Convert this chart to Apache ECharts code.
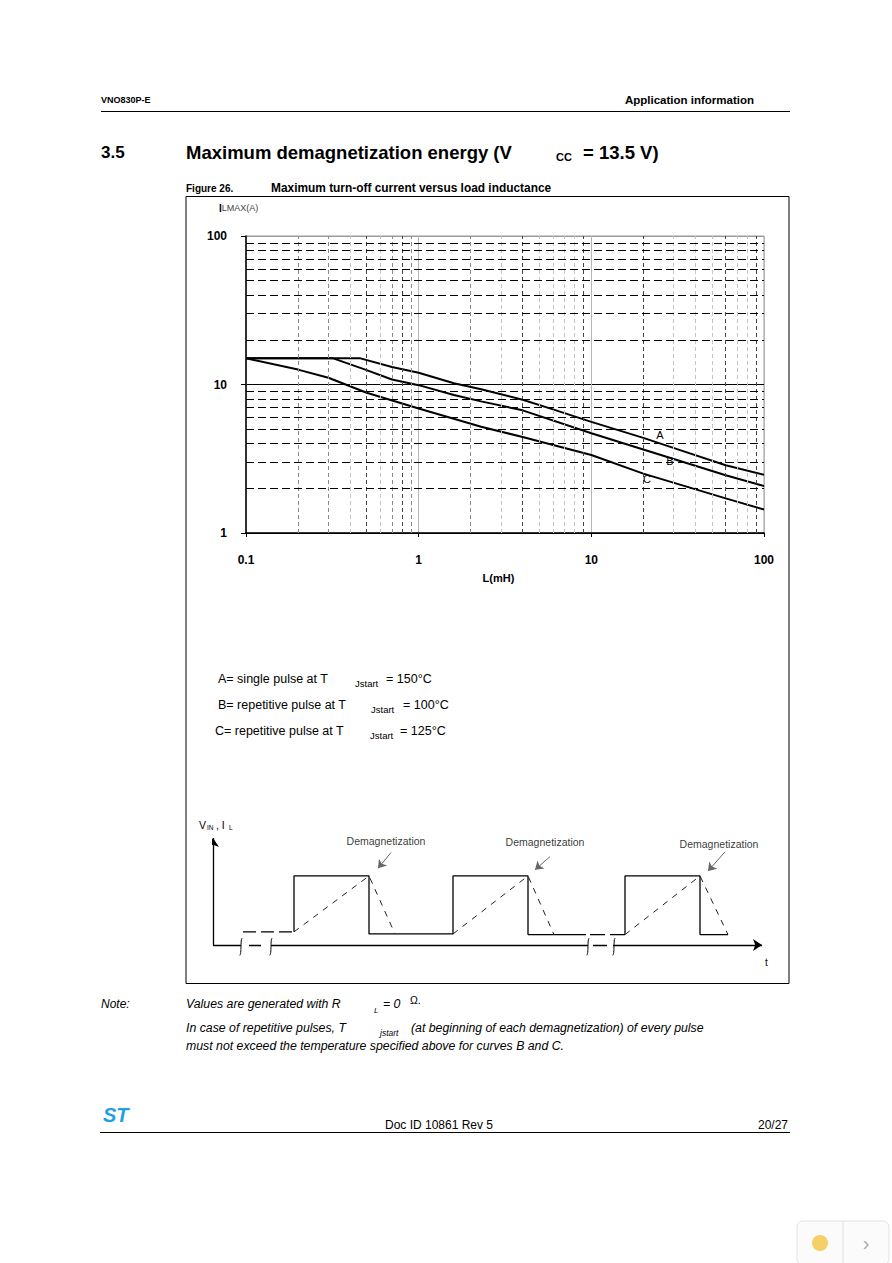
<!DOCTYPE html>
<html>
<head>
<meta charset="utf-8">
<script src="https://cdn.jsdelivr.net/npm/echarts@6/dist/echarts.min.js"></script>
<style>
html,body{margin:0;padding:0;background:#fff;}
#c{width:892px;height:1263px;}
</style>
</head>
<body>
<div id="c"></div>
<script>
// ---------- data: Figure 26 (log-log) ----------
const curveA = [[0.1,15],[0.46,15],[0.7,13.1],[1,12],[1.6,10.2],[2.3,9.3],[4,7.9],[6,6.8],[10,5.6],[20,4.37],[33,3.6],[60,2.86],[100,2.47]];
const curveB = [[0.1,15],[0.32,15],[0.5,12.5],[0.7,10.8],[1,9.9],[1.6,8.5],[2.3,7.7],[4,6.7],[10,4.7],[20,3.65],[60,2.45],[100,2.07]];
const curveC = [[0.1,15],[0.2,12.6],[0.3,11.1],[0.5,8.8],[1,6.9],[2.3,5.2],[4,4.43],[10,3.35],[20,2.51],[60,1.71],[100,1.44]];
const curveNames = ['A','B','C'];
const curveLabelAt = [[25,4.6],[28.5,3.05],[21,2.3]];
const xMinorDark = [0.5,0.8,4,9,20,60,90];
const xMinorMid = [0.2,0.3,0.7,0.9,2];
const xMinorLight = [0.4,0.6,3,5,6,7,8,30,40,50,70,80];
const yMinor = [2,3,4,5,6,7,8,9,20,30,40,50,60,70,80,90];

// ---------- data: waveform sketch (time units, level units) ----------
const pulsesSolid1 = [[8.1,0.19],[8.1,1],[15.6,1],[15.6,0.16],[24,0.16],[24,1],[31.5,1],[31.5,0.15],[37.3,0.15]];
const pulsesSolid2 = [[41.2,0.15],[41.2,1],[48.7,1],[48.7,0.15],[51.5,0.15]];
const lowDashed1 = [[3.0,0.19],[8.1,0.19]];
const lowDashed2 = [[37.7,0.15],[41.2,0.15]];
const ramp1 = [[8.1,0.19],[15.6,1],[18.2,0.16]];
const ramp2 = [[24,0.16],[31.5,1],[34.1,0.15]];
const ramp3 = [[41.2,0.15],[48.7,1],[51.5,0.15]];
const axisPieces = [[[0,0],[2.8,0]],[[3.6,0],[4.8,0]],[[5.8,0],[37.5,0]],[[38.0,0],[39.4,0]]];
const axisArrowX = [[40.0,0],[54.9,0]];
const axisArrowY = [[0,0],[0,1.55]];
const breakAt = [2.8,5.8,37.5,40.1];
const demagLabels = [[17.3,1.51],[33.2,1.49],[50.6,1.46]];
const demagArrows = [[[17.8,1.34],[16.5,1.11]],[[33.7,1.28],[32.2,1.09]],[[51.2,1.35],[49.5,1.07]]];

const FONT = '"Liberation Sans", Arial, Helvetica, sans-serif';
const chart = echarts.init(document.getElementById('c'), null, {renderer:'svg'});

function txt(x, y, s, size, opt) {
  opt = opt || {};
  return {type:'text', x:x, y:y, z:10, style:Object.assign({text:s, fontFamily:FONT, fontSize:size, fill:'#000',
    fontWeight:opt.bold?'bold':'normal', fontStyle:opt.italic?'italic':'normal',
    textAlign:opt.align||'left', textVerticalAlign:'middle'}, opt.style||{})};
}
function vline(v, color, dash) { return {xAxis:v, lineStyle:{color:color, type:dash, width:1}}; }

const breakMarks = breakAt.map(b => ({
  type:'line', xAxisIndex:1, yAxisIndex:1, symbol:'none', smooth:true, silent:true,
  lineStyle:{color:'#000', width:1},
  data:[[b-0.12,-0.15],[b-0.03,-0.11],[b,-0.02],[b+0.03,0.07],[b+0.12,0.1]]
}));

const option = {
  backgroundColor:'#fff',
  animation:false,
  grid:[
    {left:246, top:236, width:518, height:297, show:true, borderColor:'#9a9a9a', borderWidth:1, backgroundColor:'transparent'},
    {left:213, top:838, width:549, height:127.65, show:false}
  ],
  xAxis:[
    {type:'log', logBase:10, min:0.1, max:100, gridIndex:0,
     axisLine:{show:true, lineStyle:{color:'#000', width:1.5}},
     axisTick:{show:true, length:4, lineStyle:{color:'#000'}},
     minorTick:{show:false},
     axisLabel:{fontFamily:FONT, fontWeight:'bold', fontSize:12, color:'#000', margin:21},
     splitLine:{show:true, lineStyle:{color:'#b5b5b5', width:1}},
     name:'L(mH)', nameLocation:'middle', nameGap:39,
     nameTextStyle:{fontFamily:FONT, fontWeight:'bold', fontSize:11, color:'#000', padding:[0,13,0,0]}},
    {type:'value', gridIndex:1, min:0, max:54.9, show:false}
  ],
  yAxis:[
    {type:'log', logBase:10, min:1, max:100, gridIndex:0,
     axisLine:{show:true, lineStyle:{color:'#000', width:1.5}},
     axisTick:{show:true, length:5, lineStyle:{color:'#000'}},
     axisLabel:{fontFamily:FONT, fontWeight:'bold', fontSize:12, color:'#000', margin:19, padding:[6,0,0,0]},
     splitLine:{show:true, lineStyle:{color:['#000','#000','#9a9a9a'], width:1}}},
    {type:'value', gridIndex:1, min:-0.3, max:1.55, show:false}
  ],
  series:[
    {type:'line', xAxisIndex:0, yAxisIndex:0, z:1, silent:true, symbol:'none',
     data:[[0.1,1]], lineStyle:{opacity:0},
     markLine:{silent:true, symbol:['none','none'], label:{show:false}, animation:false,
       data:[].concat(
         xMinorLight.map(v=>vline(v,'#c4c4c4',[4,3])),
         xMinorMid.map(v=>vline(v,'#8a8a8a',[4,3])),
         xMinorDark.map(v=>vline(v,'#444',[4,3])),
         yMinor.map(v=>({yAxis:v, lineStyle:{color:'#000', type:[8,4], width:1}})))}},
  ].concat([curveA,curveB,curveC].map((d,i)=>({
    type:'line', name:curveNames[i], xAxisIndex:0, yAxisIndex:0, z:3, symbol:'none', silent:true,
    data:d, lineStyle:{color:'#000', width:2},
    markPoint:{symbol:'circle', symbolSize:0, silent:true,
      label:{show:true, formatter:curveNames[i], fontFamily:FONT, fontSize:11, fontWeight:'normal', color:'#000', backgroundColor:'transparent'},
      data:[{coord:curveLabelAt[i]}]}
  }))).concat([
    {type:'line', xAxisIndex:1, yAxisIndex:1, symbol:'none', silent:true, data:pulsesSolid1, lineStyle:{color:'#000', width:1.3}},
    {type:'line', xAxisIndex:1, yAxisIndex:1, symbol:'none', silent:true, data:pulsesSolid2, lineStyle:{color:'#000', width:1.3}},
    {type:'line', xAxisIndex:1, yAxisIndex:1, symbol:'none', silent:true, data:lowDashed1, lineStyle:{color:'#000', width:1.3, type:[13,5]}},
    {type:'line', xAxisIndex:1, yAxisIndex:1, symbol:'none', silent:true, data:lowDashed2, lineStyle:{color:'#000', width:1.3, type:[15,5]}},
    {type:'line', xAxisIndex:1, yAxisIndex:1, symbol:'none', silent:true, data:ramp1, lineStyle:{color:'#222', width:1, type:[6,6]}},
    {type:'line', xAxisIndex:1, yAxisIndex:1, symbol:'none', silent:true, data:ramp2, lineStyle:{color:'#222', width:1, type:[6,6]}},
    {type:'line', xAxisIndex:1, yAxisIndex:1, symbol:'none', silent:true, data:ramp3, lineStyle:{color:'#222', width:1, type:[6,6]}},
    {type:'lines', coordinateSystem:'cartesian2d', xAxisIndex:1, yAxisIndex:1, silent:true, symbol:['none','none'],
     lineStyle:{color:'#000', width:1.3, opacity:1}, data:axisPieces.map(p=>({coords:p}))},
    {type:'lines', coordinateSystem:'cartesian2d', xAxisIndex:1, yAxisIndex:1, silent:true, symbol:['none','arrow'], symbolSize:9,
     lineStyle:{color:'#000', width:1.3, opacity:1}, data:[{coords:axisArrowX},{coords:axisArrowY}]},
    {type:'lines', coordinateSystem:'cartesian2d', xAxisIndex:1, yAxisIndex:1, silent:true, symbol:['none','arrow'], symbolSize:8,
     lineStyle:{color:'#666', width:1, opacity:1}, data:demagArrows.map(p=>({coords:p}))},
    {type:'scatter', xAxisIndex:1, yAxisIndex:1, silent:true, symbolSize:0, data:demagLabels,
     label:{show:true, position:'inside', formatter:'Demagnetization', fontFamily:FONT, fontSize:10.5, color:'#000'}}
  ]).concat(breakMarks),
  graphic:[
    txt(101,100,'VNO830P-E',9,{bold:true}),
    txt(754,100,'Application information',11.5,{bold:true,align:'right'}),
    {type:'line', z:10, shape:{x1:101,y1:111.5,x2:790,y2:111.5}, style:{stroke:'#000', lineWidth:1}},
    txt(101,152,'3.5',17,{bold:true}),
    txt(186,152,'Maximum demagnetization energy (V',18.5,{bold:true}),
    txt(556,157,'CC',11,{bold:true}),
    txt(583,152,'= 13.5 V)',18.5,{bold:true}),
    txt(186,188,'Figure 26.',10,{bold:true}),
    txt(271,188,'Maximum turn-off current versus load inductance',11.9,{bold:true}),
    {type:'rect', z:1, shape:{x:186,y:196.5,width:603,height:787}, style:{fill:'none', stroke:'#000', lineWidth:1}},
    {type:'text', x:219, y:208, z:10, style:{text:'{a|I}{b|LMAX(A)}', textVerticalAlign:'middle',
      rich:{a:{fontFamily:FONT, fontSize:10, fontWeight:'bold', fill:'#000', color:'#000'},
            b:{fontFamily:FONT, fontSize:9, fill:'#444', color:'#444'}}}},
    txt(218,679,'A= single pulse at T',12.5),
    txt(355,683,'Jstart',9.5),
    txt(386,679,'= 150°C',12.5),
    txt(218,705,'B= repetitive pulse at T',12.5),
    txt(371,709,'Jstart',9.5),
    txt(403,705,'= 100°C',12.5),
    txt(215,731,'C= repetitive pulse at T',12.5),
    txt(370,735,'Jstart',9.5),
    txt(400,731,'= 125°C',12.5),
    txt(199,825,'V',10.5),
    txt(207,827,'IN',6.5),
    txt(216,825,', I',10.5),
    txt(229,827,'L',6.5),
    txt(765,962,'t',10),
    txt(101,1004,'Note:',12,{italic:true}),
    txt(186,1004,'Values are generated with R',12.3,{italic:true}),
    txt(374,1010,'L',8,{italic:true}),
    txt(383,1004,'= 0',12.3,{italic:true}),
    txt(410,1000,'Ω.',10.5),
    txt(186,1028,'In case of repetitive pulses, T',12.3,{italic:true}),
    txt(380,1033,'jstart',8.5,{italic:true}),
    txt(411,1028,'(at beginning of each demagnetization) of every pulse',12.3,{italic:true}),
    txt(186,1046,'must not exceed the temperature specified above for curves B and C.',12.3,{italic:true}),
    txt(103,1115,'ST',20,{bold:true,italic:true,style:{fill:'#1ea0e2'}}),
    {type:'line', z:10, shape:{x1:100,y1:1132.5,x2:790,y2:1132.5}, style:{stroke:'#000', lineWidth:1}},
    txt(439,1125,'Doc ID 10861 Rev 5',12,{align:'center'}),
    txt(788,1125,'20/27',12,{align:'right'}),
    {type:'rect', z:10, shape:{x:797,y:1221,width:92,height:44,r:6}, style:{fill:'#fbfbfb', stroke:'#e2e2e2', lineWidth:1}},
    {type:'line', z:11, shape:{x1:843,y1:1221,x2:843,y2:1263}, style:{stroke:'#e2e2e2', lineWidth:1}},
    txt(866,1243,'›',20,{align:'center',style:{fill:'#aaa'}}),
    {type:'circle', z:11, shape:{cx:820,cy:1243,r:8}, style:{fill:'#f5c542', opacity:0.8}}
  ]
};
chart.setOption(option);
</script>
</body>
</html>
